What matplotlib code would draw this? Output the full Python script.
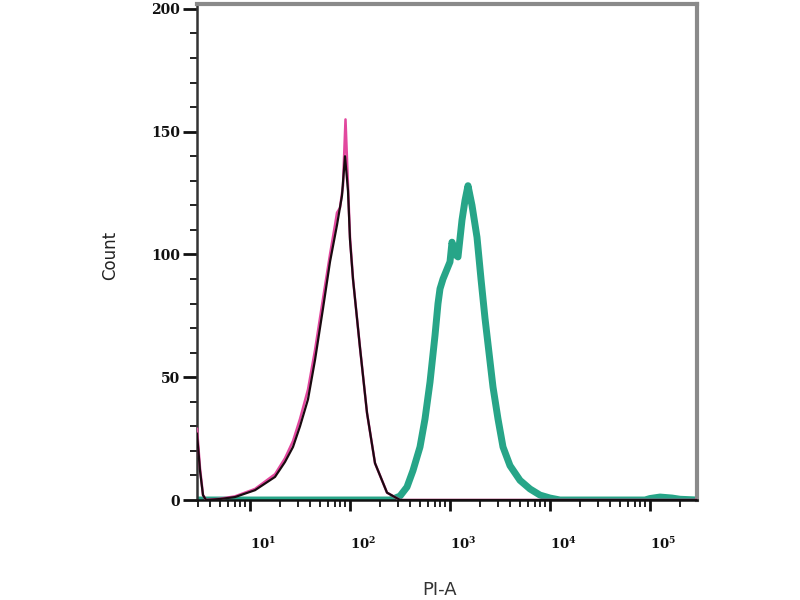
import matplotlib
matplotlib.use("Agg")
import matplotlib.pyplot as plt
from matplotlib.ticker import LogLocator, FixedLocator, MultipleLocator
import matplotlib.transforms as mtrans
import numpy as np

# PI-A intensity (log10) and counts for each histogram
black_log = [0.47, 0.50, 0.53, 0.56, 0.70, 0.85, 1.05, 1.25, 1.35, 1.43, 1.50, 1.58, 1.65,
             1.73, 1.80, 1.87, 1.92, 1.95, 1.98, 2.00, 2.03, 2.10, 2.17, 2.25, 2.37, 2.50, 5.47]
black_cnt = [27, 12, 2, 0, 0.4, 1.2, 4, 9.4, 15.5, 21.6, 30, 41, 57,
             78, 97, 112, 124, 140, 126, 106, 90, 62, 35.5, 15, 3, 0, 0]

pink_log = [0.47, 0.50, 0.53, 0.56, 0.70, 0.85, 1.05, 1.25, 1.35, 1.43, 1.50, 1.58, 1.65,
            1.73, 1.80, 1.85, 1.87, 1.90, 1.93, 1.955, 1.98, 2.00, 2.03, 2.10, 2.17, 2.25, 2.37, 2.50, 5.47]
pink_cnt = [29, 13, 2, 0, 0.5, 1.5, 4.5, 10.5, 17, 24, 33, 45, 61,
            82, 100, 112, 117, 119, 128, 155, 128, 107, 90, 62, 35.5, 15, 3, 0, 0]

teal_log = [0.47, 2.40, 2.43, 2.50, 2.57, 2.63, 2.70, 2.75, 2.80, 2.85, 2.88, 2.90, 2.93, 2.97,
            3.00, 3.02, 3.05, 3.08, 3.12, 3.15, 3.18, 3.22, 3.27, 3.31, 3.35, 3.43, 3.48,
            3.53, 3.60, 3.70, 3.80, 3.90, 4.00, 4.10, 4.95, 5.00, 5.10, 5.22, 5.30, 5.47]
teal_cnt = [0, 0, 0.4, 1.6, 5.3, 12, 21.6, 33, 48, 67, 80, 86, 90, 94,
            97, 105, 100, 99, 114, 122, 128, 120, 107, 90, 74, 46, 33,
            21.6, 14, 8, 4.5, 2, 0.8, 0, 0, 0.6, 1.2, 0.8, 0.3, 0]

xtick_exp = [1, 2, 3, 4, 5]
ytick_vals = [0, 50, 100, 150, 200]

plt.rcParams['mathtext.fontset'] = 'dejavuserif'

fig = plt.figure(figsize=(8, 6), dpi=100)
ax = fig.add_axes([197/800, 1-500/600, 500/800, 496/600])

ax.plot(10**np.array(teal_log), teal_cnt, color='#27a588', lw=5, solid_joinstyle='round', zorder=2)
ax.plot(10**np.array(pink_log), pink_cnt, color='#e2489e', lw=1.8, zorder=3)
ax.plot(10**np.array(black_log), black_cnt, color='#1a0a10', lw=1.6, zorder=4)

ax.set_xscale('log')
ax.set_xlim(10**0.47, 10**5.47)
ax.set_ylim(0, 202)

ax.xaxis.set_major_locator(FixedLocator([10.0**e for e in xtick_exp]))
ax.xaxis.set_minor_locator(LogLocator(base=10, subs=np.arange(2, 10)))
ax.set_xticklabels([r'$\mathbf{10^{%d}}$' % e for e in xtick_exp], fontsize=9.5, color='#222')
offset = mtrans.ScaledTranslation(3/100, 0, fig.dpi_scale_trans)
for lbl in ax.get_xticklabels():
    lbl.set_horizontalalignment('left')
    lbl.set_transform(lbl.get_transform() + offset)
ax.set_yticks(ytick_vals)
ax.set_yticklabels([str(v) for v in ytick_vals], fontsize=10, family='DejaVu Serif',
                   fontweight='bold', color='#222')
ax.yaxis.set_minor_locator(MultipleLocator(10))

ax.tick_params(axis='x', which='major', direction='out', length=8, width=2, pad=18, colors='#111')
ax.tick_params(axis='x', which='minor', direction='out', length=5, width=1.3, colors='#111')
ax.tick_params(axis='y', which='major', direction='out', length=10, width=2, pad=2, colors='#111')
ax.tick_params(axis='y', which='minor', direction='out', length=5, width=1.3, colors='#111')

for s in ['top', 'right']:
    ax.spines[s].set_color('#8a8a8a')
    ax.spines[s].set_linewidth(3)
ax.spines['left'].set_color('#333')
ax.spines['left'].set_linewidth(1.8)
ax.spines['bottom'].set_color('#111')
ax.spines['bottom'].set_linewidth(1.8)

fig.text(110/800, 1-255/600, 'Count', rotation=90, ha='center', va='center', fontsize=12, color='#222')
fig.text(440/800, 1-590/600, 'PI-A', ha='center', va='center', fontsize=13, color='#333')

fig.savefig('out.png', dpi=100)
